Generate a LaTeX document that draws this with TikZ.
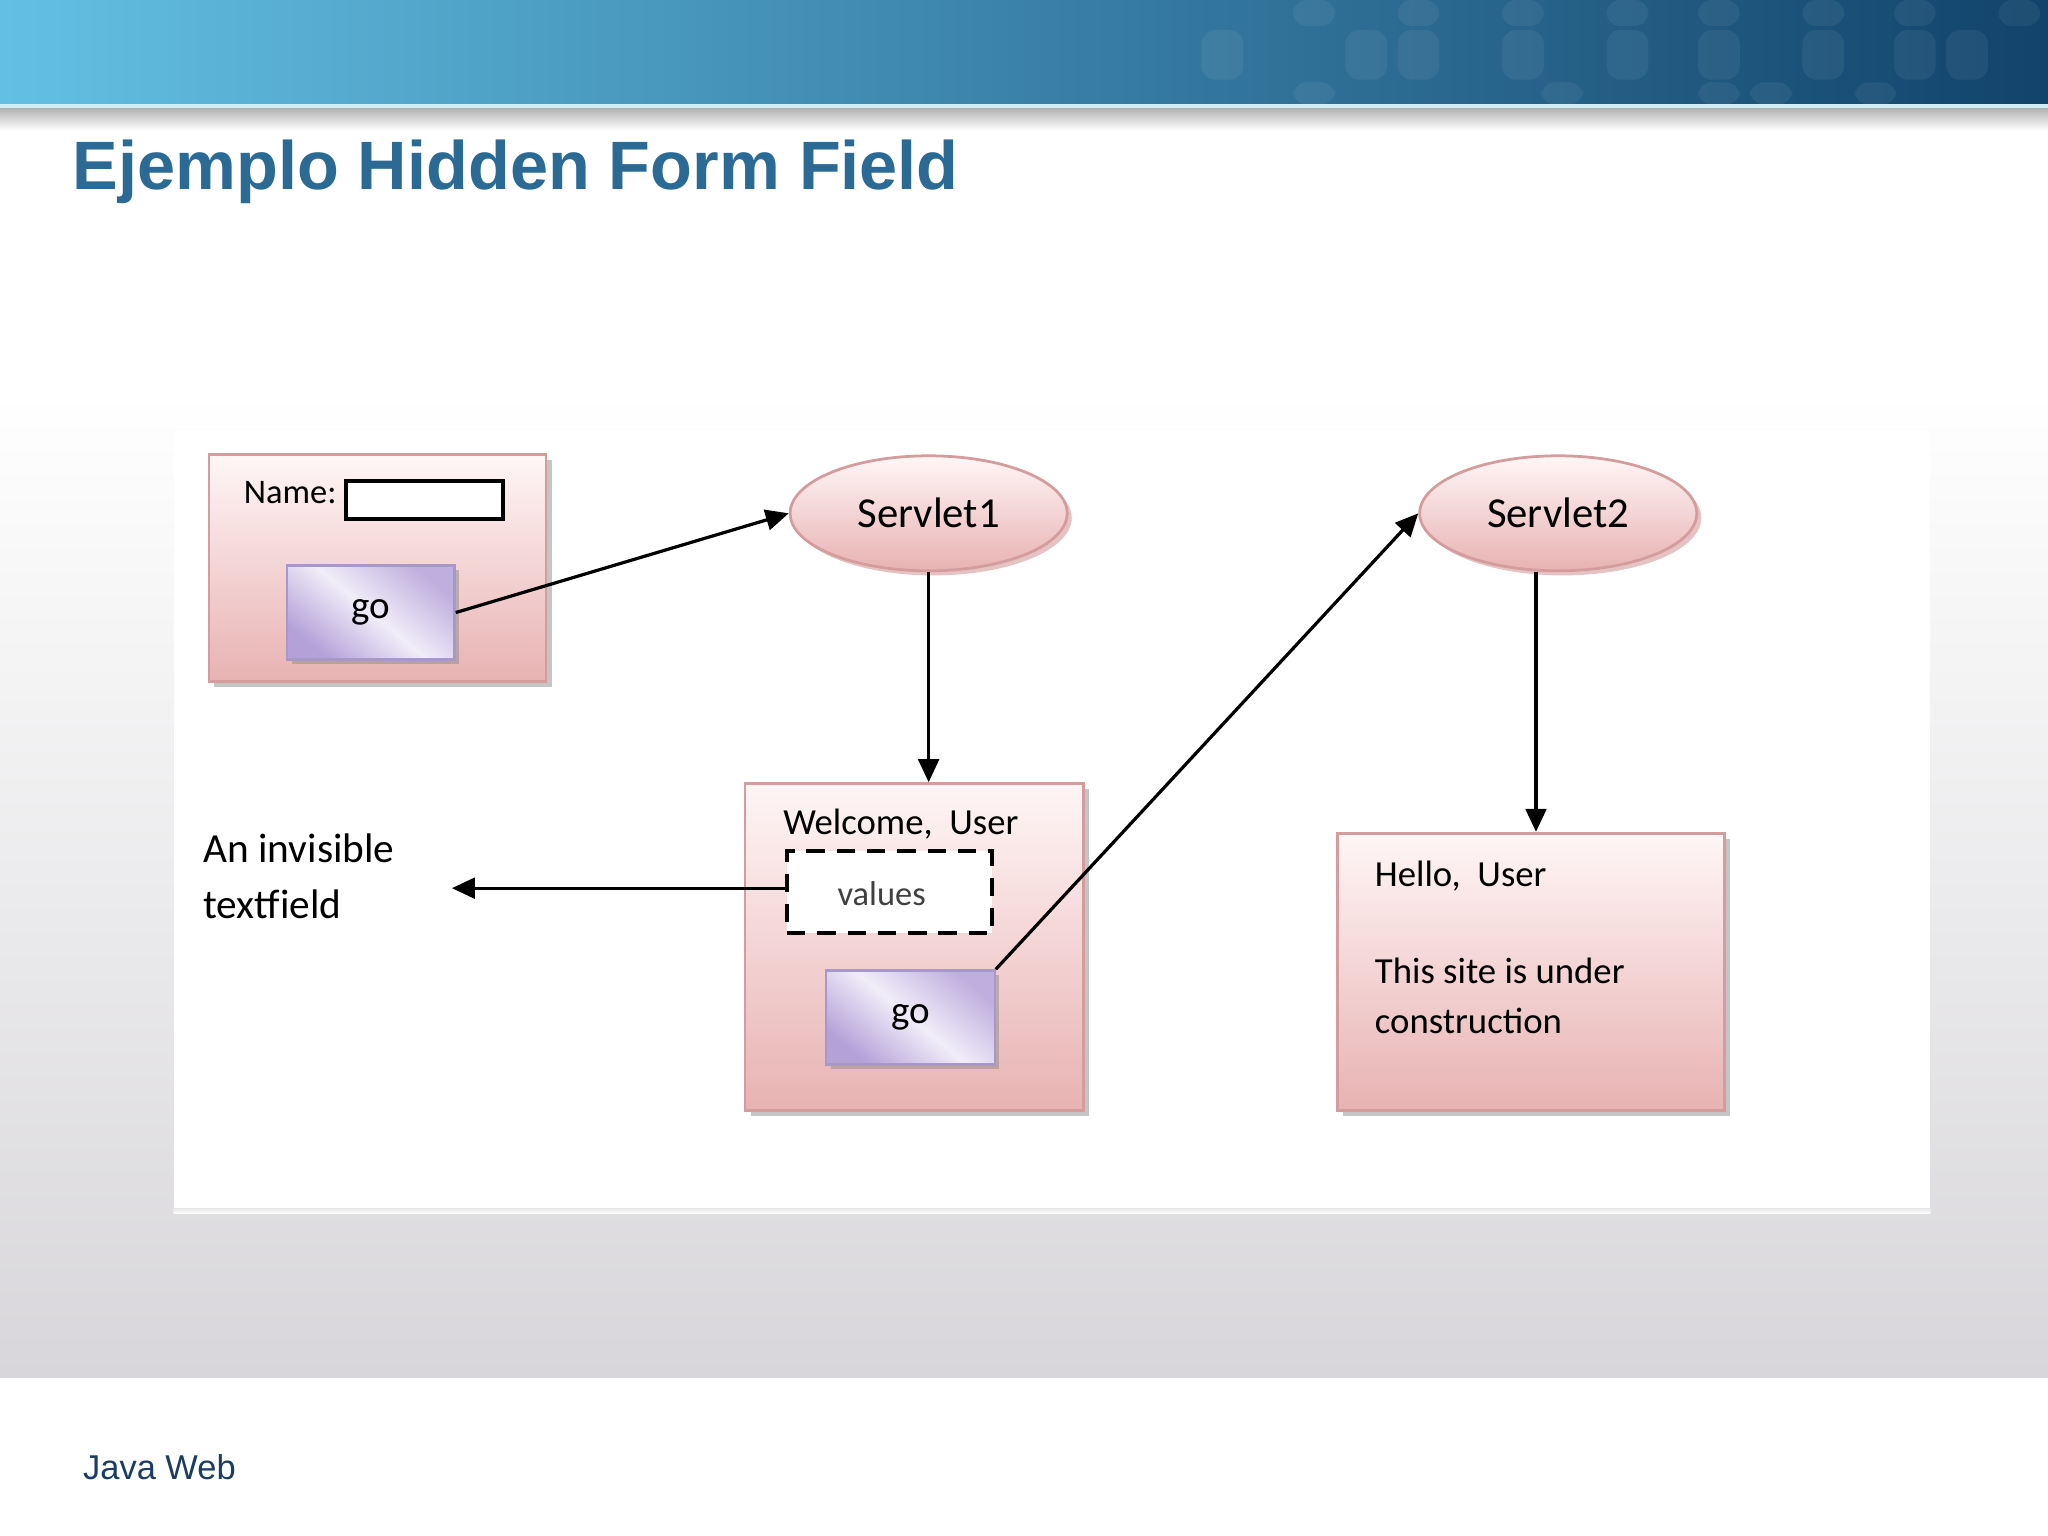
\documentclass[tikz,border=0pt]{standalone}
\usepackage{fontspec}
\setmainfont{Liberation Sans}
\newfontfamily\calibri{Carlito}
\usetikzlibrary{shapes.geometric,arrows.meta,shadows}

\definecolor{hdrleft}{HTML}{63C0E4}
\definecolor{hdrmid}{HTML}{3683AC}
\definecolor{hdrright}{HTML}{12436B}
\definecolor{titleblue}{HTML}{2B6A95}
\definecolor{footblue}{HTML}{1C3D63}
\definecolor{bggray}{HTML}{D8D6DA}
\definecolor{pinktop}{HTML}{FFF6F6}
\definecolor{pinkbot}{HTML}{E8B2B2}
\definecolor{pinkedge}{HTML}{D49C9C}
\definecolor{lavdark}{HTML}{B3A1D8}
\definecolor{lavlight}{HTML}{F1EDF9}
\definecolor{lavedge}{HTML}{A898C8}

\begin{document}
\begin{tikzpicture}[x=0.01cm, y=-0.01cm,
    pinkbox/.style={draw=pinkedge, line width=0.6pt, top color=pinktop, bottom color=pinkbot,
        drop shadow={shadow xshift=1.2pt, shadow yshift=-1.2pt, fill=black!45, opacity=.5}, inner sep=0},
    servlet/.style={ellipse, draw=pinkedge, line width=0.6pt, top color=pinktop, bottom color=pinkbot,
        drop shadow={shadow xshift=1pt, shadow yshift=-1pt, fill=pinkedge, opacity=.6},
        minimum width=2.12cm, minimum height=0.88cm, inner sep=0, font=\calibri\fontsize{9.3}{11}\selectfont},
    gobtn/.style={draw=lavedge, line width=0.5pt, top color=lavdark!85, bottom color=lavdark,
        middle color=lavlight, shading angle=-40,
        drop shadow={shadow xshift=1pt, shadow yshift=-1pt, fill=black!45, opacity=.5},
        minimum width=1.28cm, minimum height=0.72cm, inner sep=0, font=\calibri\fontsize{8.5}{10}\selectfont},
    txt/.style={inner sep=0, anchor=west, font=\calibri\fontsize{8}{10}\selectfont},
    flow/.style={-{Triangle[length=5pt,width=4.5pt]}, line width=0.7pt}]

% Seite
\useasboundingbox (0,0) rectangle (1568,1176);
\fill[white] (0,0) rectangle (1568,1176);
\shade[top color=white, bottom color=bggray] (0,300) rectangle (1568,1055);   %Hintergrund
\fill[white] (133,330) rectangle (1478,925);                                   %Bildflaeche
\shade[top color=black!10, bottom color=white] (133,925) rectangle (1478,929);

% Kopfleiste
\shade[left color=hdrleft, middle color=hdrmid, right color=hdrright] (0,0) rectangle (1568,80);
\foreach \xx/\yy/\hh in {990/0/20, 1070/0/20, 1150/0/20, 1230/0/20, 1300/0/20, 1380/0/20, 1450/0/20, 1530/0/20,
    920/23/38, 1030/23/38, 1070/23/38, 1150/23/38, 1230/23/38, 1300/23/38, 1380/23/38, 1450/23/38, 1490/23/38,
    990/63/17, 1180/63/17, 1300/63/17, 1340/63/17, 1420/63/17}
    \fill[white, opacity=0.06, rounded corners=3pt] (\xx,\yy) rectangle ++(32,\hh);
\fill[hdrleft!30] (0,80) rectangle (1568,83);
\shade[top color=black!30, bottom color=white] (0,83) rectangle (1568,100);   %Schatten

\node (title) [anchor=base west, inner sep=0, text=titleblue, font=\bfseries\fontsize{14.9}{18}\selectfont]
    at (55,145) {Ejemplo Hidden Form Field};
\node (footer) [anchor=west, inner sep=0, text=footblue, font=\fontsize{7.5}{9}\selectfont]
    at (63,1123) {Java Web};

% Formular 1
\node (form1) [pinkbox, minimum width=2.58cm, minimum height=1.74cm] at (289,435) {};
\node (namelbl) [txt, font=\calibri\fontsize{7.5}{9}\selectfont] at (186,377) {Name:};
\node (namefield) [draw, fill=white, line width=0.8pt, minimum width=1.2cm, minimum height=0.29cm, inner sep=0]
    at (325,383) {};
\node (go1) [gobtn] at (284,469) {go};

% Servlets
\node (servlet1) [servlet] at (711,393) {Servlet1};
\node (servlet2) [servlet] at (1193,393) {Servlet2};

% Formular 2
\node (form2) [pinkbox, minimum width=2.59cm, minimum height=2.5cm] at (700,725) {};
\node (welcome) [txt] at (599,631) {Welcome,\ \ User};
\node (hidden) [draw, dashed, dash pattern=on 4pt off 2.6pt, line width=0.9pt, fill=white,
    minimum width=1.57cm, minimum height=0.63cm, inner sep=0] at (681,683) {};
\node (values) [inner sep=0, text=black!75, font=\calibri\fontsize{7.5}{9}\selectfont] at (675,684) {values};
\node (go2) [gobtn, minimum width=1.29cm] at (697,779) {go};

% Antwortseite
\node (form3) [pinkbox, minimum width=2.96cm, minimum height=2.12cm] at (1172,744) {};
\node (hello) [txt] at (1052,671) {Hello,\ \ User};
\node (construct) [txt, align=left, font=\calibri\fontsize{8}{10.8}\selectfont, anchor=north west]
    at (1052,733) {This site is under\\construction};

\node (invisible) [anchor=north west, inner sep=0, align=left, font=\calibri\fontsize{9}{12}\selectfont]
    at (155,638) {An invisible\\textfield};
\coordinate (invtip) at (346,680);

% Pfeile
\draw [flow] (go1.east) -- (servlet1.west);
\draw [flow] (servlet1.south) -- (servlet1.south |- form2.north);
\draw [flow] (hidden.west |- 0,680) -- (invtip);
\draw [flow] (go2.north east) -- (servlet2.west);
\draw [flow] (servlet2.south -| 1176,0) -- (1176,0 |- form3.north);
\end{tikzpicture}
\end{document}
